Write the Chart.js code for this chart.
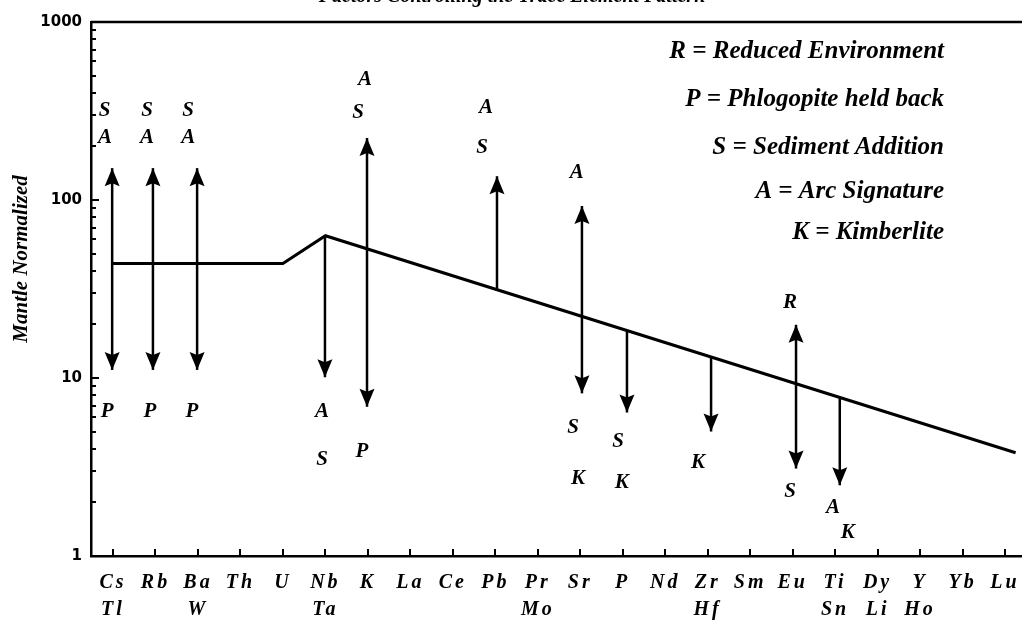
<!DOCTYPE html>
<html>
<head>
<meta charset="utf-8">
<script src="https://cdn.jsdelivr.net/npm/chart.js@4.4.0/dist/chart.umd.min.js"></script>
<style>
  html, body { margin: 0; padding: 0; background: #fff; }
  #wrap { position: relative; width: 1022px; height: 632px; }
</style>
</head>
<body>
<div id="wrap"><canvas id="spider"></canvas></div>
<script>
// --- DATA ---
const elements  = ['Cs','Rb','Ba','Th','U','Nb','K','La','Ce','Pb','Pr','Sr','P','Nd','Zr','Sm','Eu','Ti','Dy','Y','Yb','Lu'];
const elements2 = ['Tl','','W','','','Ta','','','','','Mo','','','','Hf','','','Sn','Li','Ho','',''];
const yTicks = [1, 10, 100, 1000];

// mantle-normalized pattern (x = element index)
const patternX = [0, 4, 5, 21.25];
const patternY = [44, 44, 63, 3.8];

// arrows: from -> to (head at "to", and at "from" when both)
const arrowX    = [-0.02, 0.94, 1.98, 4.99, 5.98, 9.04, 11.04, 12.1, 14.08, 16.08, 17.11];
const arrowFrom = [11.1, 11.1, 11.1, 63, 6.9, 31.3, 8.2, 18.5, 13.1, 3.1, 7.8];
const arrowTo   = [151, 151, 151, 10.1, 223, 136, 92.5, 6.4, 5.0, 19.9, 2.5];
const arrowBoth = [true, true, true, false, true, false, true, false, false, true, false];

// letters next to the arrows
const noteText = ['S','A','P', 'S','A','P', 'S','A','P', 'A','S', 'A','S','P', 'A','S', 'A','S','K', 'S','K', 'K', 'R','S', 'A','K'];
const noteX = [-0.2,-0.19,-0.14, 0.8,0.8,0.87, 1.77,1.77,1.86, 4.92,4.92, 5.93,5.77,5.86, 8.78,8.69, 10.92,10.83,10.95, 11.89,11.98, 13.77, 15.94,15.94, 16.95,17.3];
const noteY = [320,223,6.44, 320,223,6.44, 320,223,6.44, 6.44,3.46, 472,308,3.84, 329,196, 142,5.24,2.74, 4.37,2.6, 3.33, 26.4,2.29, 1.86,1.36];

const keyLines = ['R = Reduced Environment', 'P = Phlogopite held back', 'S = Sediment Addition', 'A = Arc Signature', 'K = Kimberlite'];
const titleText = 'Factors Controlling the Trace Element Pattern';
const yTitle = 'Mantle Normalized';

// --- DRAWING ---
const serif = '"Liberation Serif", "Times New Roman", serif';
const bi = (size) => 'italic bold ' + size + 'px ' + serif;

function arrowHead(ctx, x, y, dir) {
    // dir = 1 -> points down, -1 -> points up
    const len = 18, half = 7.5, notch = 15;
    ctx.beginPath();
    ctx.moveTo(x, y);
    ctx.lineTo(x - half, y - dir * len);
    ctx.lineTo(x, y - dir * notch);
    ctx.lineTo(x + half, y - dir * len);
    ctx.closePath();
    ctx.fill();
}

const decor = {
    id: 'decor',
    beforeDraw(chart) {
        // spaced-out element names on the x axis
        chart.ctx.letterSpacing = '3px';
    },
    beforeDatasetsDraw(chart) {
        chart.ctx.letterSpacing = '0px';
    },
    afterDatasetsDraw(chart) {
        const ctx = chart.ctx;
        ctx.save();
        ctx.fillStyle = '#000';
        chart.data.datasets.forEach((ds, di) => {
            if (!ds.isArrow) return;
            const pts = chart.getDatasetMeta(di).data;
            const a = pts[0], b = pts[1];
            const dir = b.y > a.y ? 1 : -1;
            arrowHead(ctx, b.x, b.y, dir);
            if (ds.both) arrowHead(ctx, a.x, a.y, -dir);
        });
        ctx.restore();
    },
    afterDraw(chart) {
        const ctx = chart.ctx;
        const area = chart.chartArea;
        const xs = chart.scales.x, ys = chart.scales.y;
        ctx.save();
        ctx.letterSpacing = '0px';
        ctx.strokeStyle = '#000';
        ctx.fillStyle = '#000';

        // top frame line
        ctx.lineWidth = 2.5;
        ctx.beginPath();
        ctx.moveTo(area.left, area.top);
        ctx.lineTo(area.right, area.top);
        ctx.stroke();

        // inward tick marks
        ctx.lineWidth = 2;
        ctx.beginPath();
        elements.forEach((e, i) => {
            const px = Math.round(xs.getPixelForValue(i));
            ctx.moveTo(px, area.bottom);
            ctx.lineTo(px, area.bottom - 7);
        });
        ys.ticks.forEach(t => {
            const py = Math.round(ys.getPixelForValue(t.value));
            const len = yTicks.includes(t.value) ? 8 : 5;
            ctx.moveTo(area.left, py);
            ctx.lineTo(area.left + len, py);
        });
        ctx.stroke();

        // letters beside arrows
        ctx.font = bi(21);
        ctx.textAlign = 'center';
        ctx.textBaseline = 'middle';
        noteText.forEach((t, i) => {
            ctx.fillText(t, xs.getPixelForValue(noteX[i]), ys.getPixelForValue(noteY[i]));
        });

        // key
        const keyY = [52, 100, 148, 192, 233];
        ctx.font = bi(25);
        ctx.textAlign = 'right';
        keyLines.forEach((t, i) => ctx.fillText(t, 944, keyY[i]));

        // y axis title
        ctx.save();
        ctx.translate(22, 259);
        ctx.rotate(-Math.PI / 2);
        ctx.font = bi(21);
        ctx.textAlign = 'center';
        ctx.fillText(yTitle, 0, 0);
        ctx.restore();

        // page title, cut off at the top edge
        ctx.font = bi(20);
        ctx.textAlign = 'center';
        ctx.textBaseline = 'alphabetic';
        ctx.fillText(titleText, 512, 2);
        ctx.restore();
    }
};

const datasets = [{
    data: patternX.map((x, i) => ({ x: x, y: patternY[i] })),
    showLine: true,
    borderColor: '#000',
    borderWidth: 3,
    pointRadius: 0,
    tension: 0
}];
arrowX.forEach((x, i) => {
    datasets.push({
        data: [{ x: x, y: arrowFrom[i] }, { x: x, y: arrowTo[i] }],
        showLine: true,
        borderColor: '#000',
        borderWidth: 2.5,
        pointRadius: 0,
        isArrow: true,
        both: arrowBoth[i]
    });
});

function noPad(s) {
    s.paddingLeft = 0; s.paddingRight = 0; s.paddingTop = 0; s.paddingBottom = 0;
}

new Chart(document.getElementById('spider'), {
    type: 'scatter',
    data: { datasets: datasets },
    plugins: [decor],
    options: {
        responsive: true,
        maintainAspectRatio: false,
        animation: false,
        layout: { padding: { top: 22, left: 0, right: 0, bottom: 0 } },
        plugins: { legend: { display: false }, tooltip: { enabled: false } },
        scales: {
            x: {
                type: 'linear',
                min: -0.518,
                max: 21.4,
                afterFit: s => { s.height = 76; noPad(s); },
                afterBuildTicks: s => { s.ticks = elements.map((e, i) => ({ value: i })); },
                grid: { drawOnChartArea: false, drawTicks: false },
                border: { color: '#000', width: 2.5 },
                ticks: {
                    autoSkip: false,
                    maxRotation: 0,
                    minRotation: 0,
                    padding: 13,
                    color: '#000',
                    font: { family: serif, size: 20, style: 'italic', weight: 'bold', lineHeight: 1.35 },
                    callback: v => {
                        const i = Math.round(v);
                        return elements2[i] ? [elements[i], elements2[i]] : elements[i];
                    }
                }
            },
            y: {
                type: 'logarithmic',
                min: 1,
                max: 1000,
                afterFit: s => { s.width = 91; noPad(s); },
                afterBuildTicks: s => {
                    const t = [];
                    for (let d = 1; d < 1000; d *= 10) {
                        for (let m = 1; m < 10; m++) t.push({ value: m * d });
                    }
                    t.push({ value: 1000 });
                    s.ticks = t;
                },
                grid: { drawOnChartArea: false, drawTicks: false },
                border: { color: '#000', width: 2.5 },
                ticks: {
                    autoSkip: false,
                    padding: 9,
                    z: 1,
                    color: '#000',
                    font: { family: '"DejaVu Sans", sans-serif', size: 15, weight: 'bold' },
                    callback: v => yTicks.includes(v) ? String(v) : ''
                }
            }
        }
    }
});
</script>
</body>
</html>
